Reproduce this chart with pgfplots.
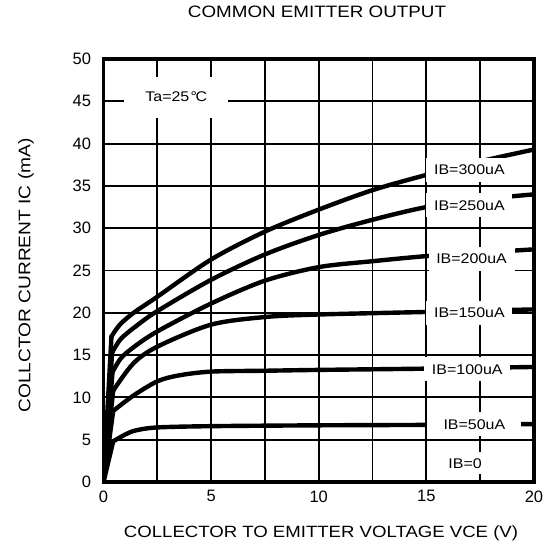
\documentclass[border=0pt]{standalone}
\usepackage{pgfplots}
\pgfplotsset{compat=1.18}
\usepackage{fontspec}
\setmainfont[FakeStretch=1.14]{Liberation Sans}
\newfontfamily\tickfont{Liberation Sans}
\begin{document}
\begin{tikzpicture}[x=1pt,y=1pt]
\useasboundingbox (0,0) rectangle (547,547);
\begin{axis}[
  at={(103.5pt,65pt)}, anchor=south west,
  scale only axis, width=430.5pt, height=423pt,
  xmin=0,xmax=20,ymin=0,ymax=50,
  xtick={0,5,...,20}, minor xtick={2.5,7.5,12.5,17.5},
  ytick={0,5,...,50},
  grid=both,
  grid style={line width=1.8pt, draw=black},
  minor grid style={line width=1.8pt, draw=black},
  major grid style={line width=1.8pt, draw=black},
  major tick length=0pt, minor tick length=0pt,
  axis line style={line width=3.5pt},
  tick label style={font=\tickfont\fontsize{16.5}{18}\selectfont},
  /pgf/number format/assume math mode=true,
  xticklabel style={yshift=-5pt},
  yticklabel style={xshift=-9pt},
  every axis plot/.append style={line width=4.4pt, black, no marks, line cap=round, line join=round},
]
% rises from origin to knee
\addplot[sharp plot] coordinates {(0,0) (0.45,4.8)};
\addplot[sharp plot] coordinates {(0,0) (0.45,8.4)};
\addplot[sharp plot] coordinates {(0,0) (0.45,10.8)};
\addplot[sharp plot] coordinates {(0,0) (0.42,13.0)};
\addplot[sharp plot] coordinates {(0,0) (0.40,15.3)};
\addplot[sharp plot] coordinates {(0,0) (0.37,17.2)};
% IB=50uA
\addplot[smooth] coordinates {(0.45,4.8) (1.0,5.6) (1.5,6.1) (2.5,6.45) (5,6.6) (10,6.7) (15,6.75) (20,6.85)};
% IB=100uA
\addplot[smooth] coordinates {(0.45,8.4) (1.38,10.2) (2.5,11.9) (3.5,12.6) (5,13.05) (7.5,13.15) (10,13.25) (15,13.4) (20,13.6)};
% IB=150uA
\addplot[smooth] coordinates {(0.45,10.8) (1.38,14.0) (2.5,16.0) (5,18.6) (7.5,19.5) (10,19.8) (15,20.1) (20,20.4)};
% IB=200uA
\addplot[smooth] coordinates {(0.42,13.0) (0.8,14.6) (1.38,15.9) (2.5,17.8) (5,21.1) (7.5,23.8) (10,25.4) (12.5,26.1) (15,26.7) (17.5,27.1) (20,27.5)};
% IB=250uA
\addplot[smooth] coordinates {(0.40,15.3) (0.8,16.9) (1.5,18.4) (2.5,20.2) (5,23.9) (7.5,26.9) (10,29.2) (12.5,31.0) (15,32.5) (17.5,33.4) (20,34.0)};
% IB=300uA
\addplot[smooth] coordinates {(0.37,17.2) (0.76,18.6) (1.4,20.0) (2.5,21.9) (5,26.3) (7.5,29.6) (10,32.2) (12.5,34.5) (15,36.3) (17.5,37.9) (20,39.3)};

\node[fill=white, inner sep=0pt, minimum width=104pt, minimum height=41pt, font=\fontsize{14}{16}\selectfont] at (axis cs:3.38,45.5) {Ta=25\,\kern-1pt°\kern-1.5pt C};
\begin{scope}[every node/.style={fill=white, inner sep=0pt, minimum width=86pt, minimum height=24pt, font=\fontsize{14}{16}\selectfont}]
\node at (axis cs:17.0,36.9) {IB=300uA};
\node at (axis cs:17.0,32.7) {IB=250uA};
\node at (axis cs:17.1,26.4) {IB=200uA};
\node at (axis cs:17.0,20.0) {IB=150uA};
\node at (axis cs:16.9,13.3) {IB=100uA};
\node[minimum width=94pt] at (axis cs:17.23,6.8) {IB=50uA};
\node[minimum width=40pt, minimum height=22pt] at (axis cs:16.8,2.2) {IB=0};
\end{scope}
\end{axis}
\node[font=\fontsize{16.5}{19}\selectfont] at (317,535) {COMMON EMITTER OUTPUT};
\node[rotate=90, font=\fontsize{16.8}{19}\selectfont] at (26,271.5) {COLLCTOR CURRENT IC (mA)};
\node[font=\fontsize{16.3}{19}\selectfont] at (321,14) {COLLECTOR TO EMITTER VOLTAGE VCE (V)};
\end{tikzpicture}
\end{document}
